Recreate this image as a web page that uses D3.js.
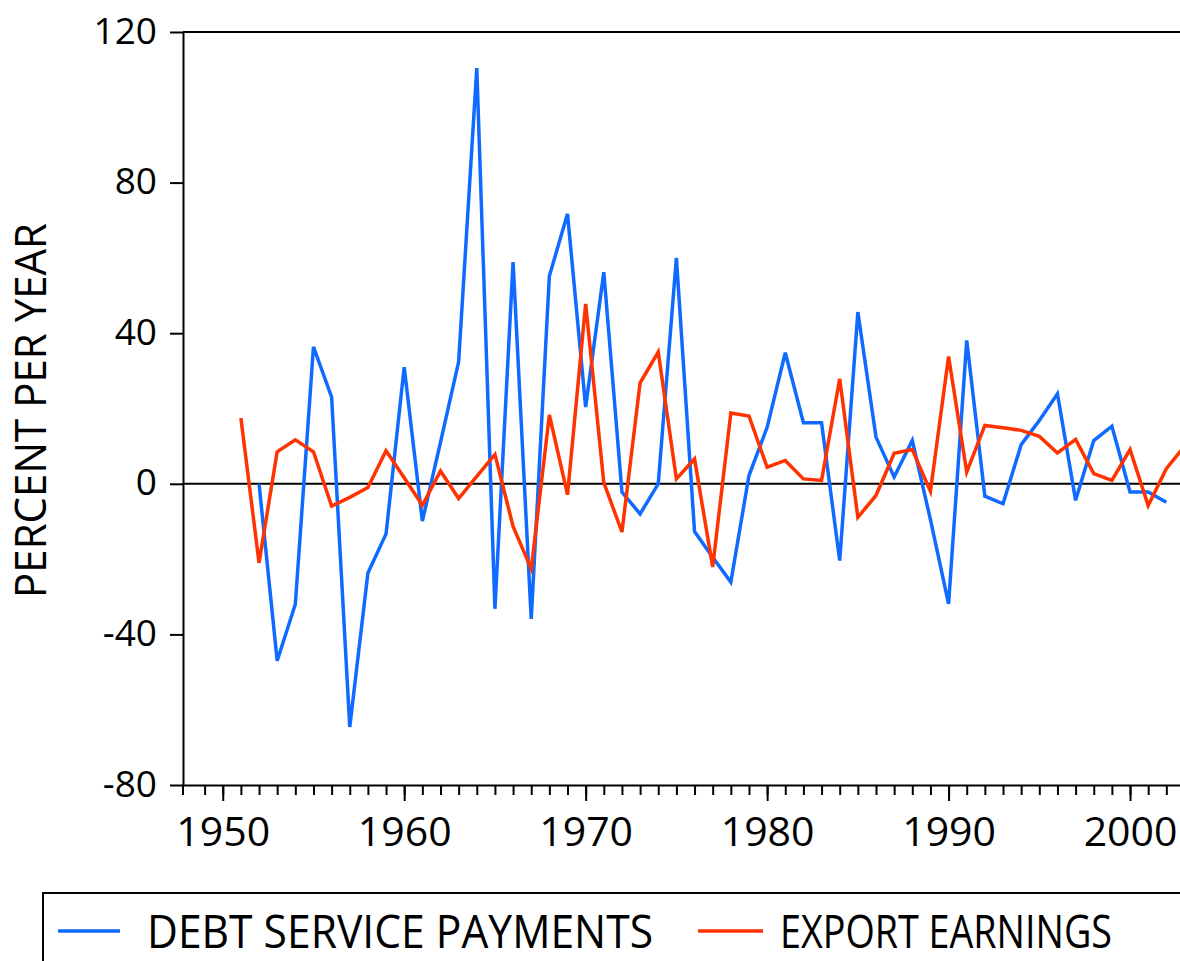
<!DOCTYPE html>
<html>
<head>
<meta charset="utf-8">
<script src="https://cdn.jsdelivr.net/npm/d3@7"></script>
<style>
  html, body { margin: 0; padding: 0; background: #fff; overflow: hidden; }
  svg { display: block; font-family: "Open Sans", "Noto Sans", sans-serif; }
</style>
</head>
<body>
<svg id="chart" width="1180" height="961"></svg>
<script>
// ---- data ----
const debtYears = d3.range(1952, 2003);
const debtService = [
  0, -47, -32, 36.4, 23, -64.6, -23.7, -13.3, 31, -9.9,
  11, 32.4, 110.4, -33.2, 58.9, -35.9, 55.2, 71.7, 20.4, 56.2,
  -2.2, -8.0, 0, 60, -12.7, -19.5, -26.1, 2.2, 15, 34.8,
  16.2, 16.2, -20.4, 45.6, 12.4, 1.8, 11.5, -9.5, -31.9, 38.1,
  -3.3, -5.3, 10.4, 16.8, 23.9, -4.4, 11.5, 15.3, -2.2, -2.2,
  -4.9
];
const exportYears = d3.range(1951, 2004);
const exportEarnings = [
  17.5, -21.0, 8.5, 11.7, 8.5, -5.9, -3.6, -1.0, 8.8, 1.6,
  -5.7, 3.4, -3.9, 2.0, 7.8, -11.3, -22.6, 18.3, -2.9, 47.8,
  0.3, -12.8, 26.8, 35.0, 1.3, 6.6, -22.1, 18.8, 18.0, 4.4,
  6.2, 1.3, 0.9, 27.9, -8.9, -3.1, 8.1, 9.1, -2.0, 33.8,
  3.1, 15.5, 14.9, 14.2, 12.6, 8.2, 11.8, 2.7, 0.9, 9.1,
  -5.8, 4.0, 10.0
];
const yTicks = [-80, -40, 0, 40, 80, 120];
const xMajorTicks = [1950, 1960, 1970, 1980, 1990, 2000];
const xMinorTicks = d3.range(1949, 2005);
const seriesNames = ["DEBT SERVICE PAYMENTS", "EXPORT EARNINGS"];
const seriesColors = ["#0f6bff", "#ff3300"];
const yLabel = "PERCENT PER YEAR";

// ---- layout ----
const svg = d3.select("#chart");
const plotLeft = 183, plotTop = 32, plotBottom = 785;
const pxPerYear = 18.146;
const x0 = 1947.81, x1 = 2005;
const x = d3.scaleLinear().domain([x0, x1]).range([plotLeft, plotLeft + (x1 - x0) * pxPerYear]);
const y = d3.scaleLinear().domain([-80, 120]).range([plotBottom, plotTop]);
const plotRight = x(x1);

// frame top border
svg.append("line").attr("x1", plotLeft).attr("x2", plotRight).attr("y1", plotTop).attr("y2", plotTop)
  .attr("stroke", "#000").attr("stroke-width", 2);

// zero line
svg.append("line").attr("x1", plotLeft).attr("x2", plotRight).attr("y1", y(0)).attr("y2", y(0))
  .attr("stroke", "#000").attr("stroke-width", 2);

// y axis
const yAxis = svg.append("g").attr("transform", `translate(${plotLeft},0)`)
  .call(d3.axisLeft(y).tickValues(yTicks).tickSize(13).tickSizeOuter(0).tickPadding(13).tickFormat(d => String(d)));
yAxis.select(".domain").attr("stroke", "#000").attr("stroke-width", 2);
yAxis.selectAll(".tick line").attr("stroke", "#000").attr("stroke-width", 2);
yAxis.selectAll(".tick text").attr("font-size", 37).attr("fill", "#000")
  .attr("font-family", '"Open Sans", sans-serif').attr("dy", "0.3em");
// y axis line extension below x axis
svg.append("line").attr("x1", plotLeft).attr("x2", plotLeft).attr("y1", plotBottom).attr("y2", plotBottom + 10)
  .attr("stroke", "#000").attr("stroke-width", 2);

// x axis minor ticks
const xMinor = svg.append("g").attr("transform", `translate(0,${plotBottom})`)
  .call(d3.axisBottom(x).tickValues(xMinorTicks).tickSize(10).tickSizeOuter(0).tickFormat(""));
xMinor.select(".domain").attr("stroke", "#000").attr("stroke-width", 2);
xMinor.selectAll(".tick line").attr("stroke", "#000").attr("stroke-width", 2);
// x axis major ticks + labels
const xMajor = svg.append("g").attr("transform", `translate(0,${plotBottom})`)
  .call(d3.axisBottom(x).tickValues(xMajorTicks).tickSize(16).tickSizeOuter(0).tickPadding(16).tickFormat(d => String(d)));
xMajor.select(".domain").remove();
xMajor.selectAll(".tick line").attr("stroke", "#000").attr("stroke-width", 2);
xMajor.selectAll(".tick text").attr("font-size", 41).attr("fill", "#000")
  .attr("font-family", '"Open Sans", sans-serif');

// y axis title
svg.append("text")
  .attr("transform", `translate(46,410.5) rotate(-90)`)
  .attr("text-anchor", "middle")
  .attr("font-size", 44)
  .attr("textLength", 375).attr("lengthAdjust", "spacingAndGlyphs")
  .attr("fill", "#000")
  .text(yLabel);

// series
const line = d3.line().x(d => x(d[0])).y(d => y(d[1]));
svg.append("clipPath").attr("id", "plotclip").append("rect")
  .attr("x", plotLeft).attr("y", plotTop).attr("width", plotRight - plotLeft).attr("height", plotBottom - plotTop);
const plot = svg.append("g").attr("clip-path", "url(#plotclip)");
plot.append("path")
  .datum(debtYears.map((yr, i) => [yr, debtService[i]]))
  .attr("d", line).attr("fill", "none")
  .attr("stroke", seriesColors[0]).attr("stroke-width", 3.5).attr("stroke-linejoin", "miter");
plot.append("path")
  .datum(exportYears.map((yr, i) => [yr, exportEarnings[i]]))
  .attr("d", line).attr("fill", "none")
  .attr("stroke", seriesColors[1]).attr("stroke-width", 3.5).attr("stroke-linejoin", "miter");

// legend
const lg = svg.append("g");
lg.append("rect").attr("x", 43).attr("y", 893).attr("width", 1300).attr("height", 200)
  .attr("fill", "#fff").attr("stroke", "#000").attr("stroke-width", 2);
const legendItems = [
  {sx1: 58, sx2: 120, tx: 147, tw: 506},
  {sx1: 698, sx2: 763, tx: 780, tw: 332}
];
legendItems.forEach((it, i) => {
  lg.append("line").attr("x1", it.sx1).attr("x2", it.sx2).attr("y1", 931).attr("y2", 931)
    .attr("stroke", seriesColors[i]).attr("stroke-width", 3.5);
  lg.append("text").attr("x", it.tx).attr("y", 948).attr("font-size", 45)
    .attr("textLength", it.tw).attr("lengthAdjust", "spacingAndGlyphs")
    .attr("fill", "#000").text(seriesNames[i]);
});
</script>
</body>
</html>
